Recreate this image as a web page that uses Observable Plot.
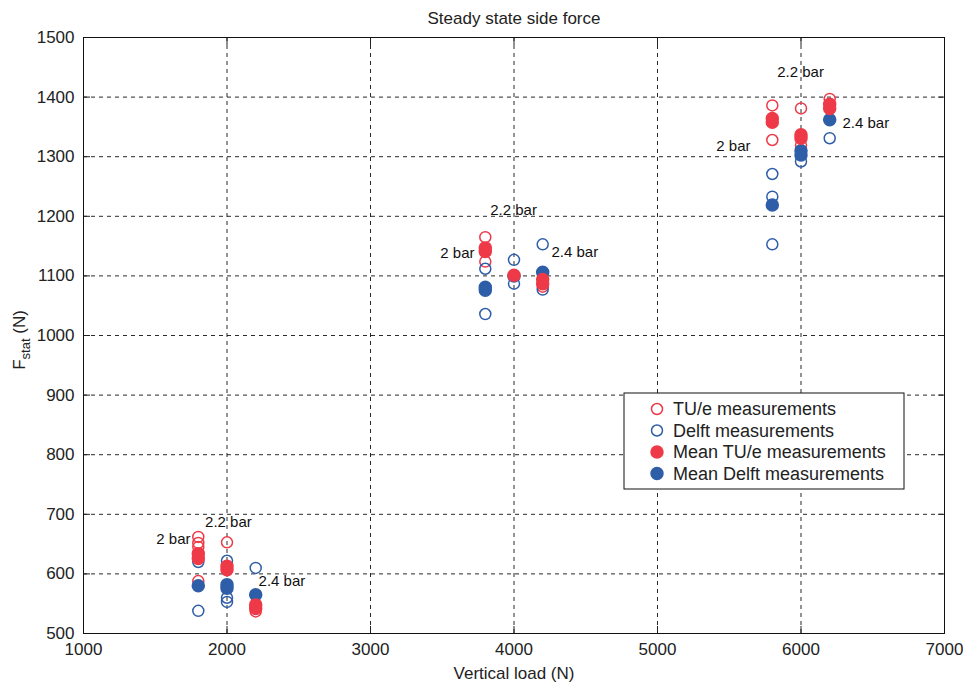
<!DOCTYPE html>
<html><head><meta charset="utf-8">
<script src="https://cdn.jsdelivr.net/npm/d3@7"></script>
<script src="https://cdn.jsdelivr.net/npm/@observablehq/plot@0.6"></script>
<style>body{margin:0;background:#fff;} svg{display:block}</style>
</head><body><div id="chart"></div>
<script>
const xTicks = [1000, 2000, 3000, 4000, 5000, 6000, 7000];
const yTicks = [500, 600, 700, 800, 900, 1000, 1100, 1200, 1300, 1400, 1500];

// TU/e individual measurements (open red)
const tueX = [1800, 1800, 1800, 1800, 2000, 2200, 3800, 3800, 4200, 5800, 5800, 6000, 6000, 6200];
const tueY = [662, 652, 645, 588, 653, 537, 1165, 1124, 1082, 1386, 1328, 1381, 1319, 1397];
// Delft individual measurements (open blue)
const delftX = [1800, 1800, 2000, 2000, 2000, 2200, 3800, 3800, 4000, 4000, 4200, 4200, 5800, 5800, 5800, 6000, 6200];
const delftY = [620, 538, 622, 560, 553, 610, 1112, 1036, 1127, 1087, 1153, 1077, 1271, 1233, 1153, 1292, 1331];
// Mean TU/e (filled red)
const meanTueX = [1800, 1800, 2000, 2000, 2200, 2200, 3800, 3800, 4000, 4200, 4200, 5800, 5800, 6000, 6000, 6200, 6200];
const meanTueY = [634, 626, 613, 607, 548, 542, 1147, 1141, 1101, 1094, 1087, 1364, 1358, 1337, 1331, 1388, 1381];
// Mean Delft (filled blue)
const meanDelftX = [1800, 2000, 2000, 2200, 3800, 3800, 4000, 4200, 5800, 6000, 6000, 6200];
const meanDelftY = [580, 582, 576, 565, 1081, 1076, 1100, 1106, 1219, 1310, 1303, 1362];

// pressure annotations
const annText = ["2 bar", "2.2 bar", "2.4 bar", "2 bar", "2.2 bar", "2.4 bar", "2 bar", "2.2 bar", "2.4 bar"];
const annX = [1746, 2010, 2220, 3725, 3997, 4261, 5648, 5997, 6289];
const annY = [659, 686, 587, 1138, 1211, 1139, 1317, 1441, 1356];
const annAnchor = ["end", "middle", "start", "end", "middle", "start", "end", "middle", "start"];

const legendLabels = ["TU/e measurements", "Delft measurements", "Mean TU/e measurements", "Mean Delft measurements"];

const RED = "#ee3a48";
const BLUE = "#2f5ea8";
const FONT = "'Liberation Sans', Arial, sans-serif";

const zip = (xs, ys) => xs.map((x, i) => ({x, y: ys[i]}));
const tue = zip(tueX, tueY);
const delft = zip(delftX, delftY);
const meanTue = zip(meanTueX, meanTueY);
const meanDelft = zip(meanDelftX, meanDelftY);
const ann = annText.map((t, i) => ({t, x: annX[i], y: annY[i], a: annAnchor[i]}));

const annMarks = ["start", "middle", "end"].map(a =>
  Plot.text(ann, {filter: d => d.a === a, x: "x", y: "y", text: "t", textAnchor: a,
    fontSize: 15, fill: "#111", lineAnchor: "middle"}));

const plot = Plot.plot({
  width: 963,
  height: 686,
  marginLeft: 83,
  marginRight: 19,
  marginTop: 37,
  marginBottom: 53,
  style: {fontFamily: FONT, background: "white", color: "#222"},
  x: {domain: [1000, 7000]},
  y: {domain: [500, 1500]},
  marks: [
    Plot.gridX(xTicks, {stroke: "#111", strokeOpacity: 0.9, strokeDasharray: "4,4"}),
    Plot.gridY(yTicks, {stroke: "#111", strokeOpacity: 0.9, strokeDasharray: "4,4"}),
    Plot.axisX({ticks: xTicks, tickSize: -7, fontSize: 17, label: null, tickFormat: d => String(d)}),
    Plot.axisX({anchor: "top", ticks: xTicks, tickSize: -7, label: null, tickFormat: () => ""}),
    Plot.axisY({ticks: yTicks, tickSize: -7, fontSize: 17, label: null, tickFormat: d => String(d)}),
    Plot.axisY({anchor: "right", ticks: yTicks, tickSize: -7, label: null, tickFormat: () => ""}),
    Plot.frame({stroke: "#111"}),
    Plot.dot(tue, {x: "x", y: "y", r: 5.5, stroke: RED, strokeWidth: 1.5, fill: "none"}),
    Plot.dot(delft, {x: "x", y: "y", r: 5.5, stroke: BLUE, strokeWidth: 1.5, fill: "none"}),
    Plot.dot(meanDelft, {x: "x", y: "y", r: 6, fill: BLUE, stroke: BLUE}),
    Plot.dot(meanTue, {x: "x", y: "y", r: 6, fill: RED, stroke: RED}),
    ...annMarks,
    Plot.text(["Steady state side force"], {frameAnchor: "top", dy: -14, lineAnchor: "bottom", fontSize: 17, fill: "#222"}),
    Plot.text(["Vertical load (N)"], {frameAnchor: "bottom", dy: 33, lineAnchor: "top", fontSize: 17, fill: "#222"})
  ]
});

document.getElementById("chart").appendChild(plot);

const svg = d3.select(plot);
// y label with subscript
const yl = svg.append("text")
  .attr("transform", "translate(25,340) rotate(-90)")
  .attr("text-anchor", "middle")
  .attr("font-family", FONT)
  .attr("font-size", 17)
  .attr("fill", "#222");
yl.append("tspan").text("F");
yl.append("tspan").attr("font-size", 13).attr("dy", 5).text("stat");
yl.append("tspan").attr("dy", -5).text(" (N)");

// legend
const lg = svg.append("g").attr("font-family", FONT).attr("font-size", 18).attr("text-anchor", "start");
lg.append("rect").attr("x", 624).attr("y", 393).attr("width", 280).attr("height", 96)
  .attr("fill", "white").attr("stroke", "#111");
const styles = [
  {fill: "none", stroke: RED}, {fill: "none", stroke: BLUE},
  {fill: RED, stroke: RED}, {fill: BLUE, stroke: BLUE}
];
legendLabels.forEach((lab, i) => {
  const cy = 409 + i * 21.5;
  lg.append("circle").attr("cx", 657).attr("cy", cy).attr("r", styles[i].fill === "none" ? 5.5 : 6)
    .attr("fill", styles[i].fill).attr("stroke", styles[i].stroke).attr("stroke-width", 1.5);
  lg.append("text").attr("x", 673).attr("y", cy).attr("dy", "0.35em").attr("text-anchor", "start")
    .attr("fill", "#222").text(lab);
});
</script>
</body></html>
